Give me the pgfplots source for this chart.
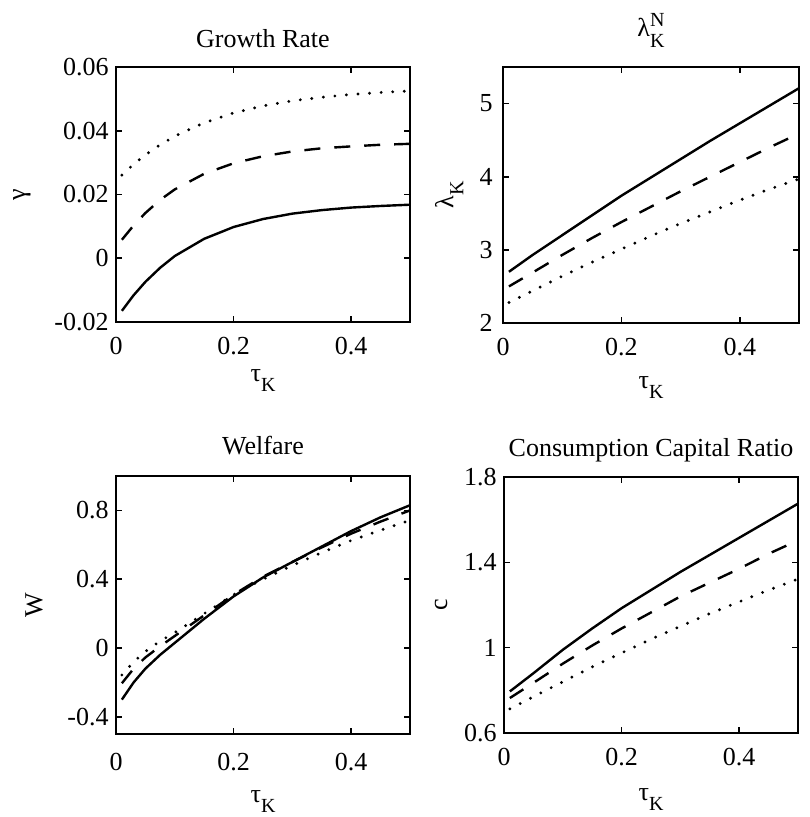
\documentclass[border=0pt]{standalone}
\usepackage{amsmath}
\usepackage{fontspec}
\setmainfont{Liberation Serif}
\usepackage{pgfplots}
\pgfplotsset{compat=1.18}

\newcommand{\sk}[1]{\raisebox{-5pt}{\fontsize{10}{10}\selectfont #1}}

\pgfplotsset{
  panel/.style={
    scale only axis, width=147pt, height=128pt,
    xmin=0, xmax=0.5, xtick={0,0.2,0.4}, xticklabels={0,0.2,0.4},
    scaled y ticks=false, scaled x ticks=false,
    tick align=inside, tick pos=both, major tick length=3pt,
    axis line style={line width=1.4pt},
    every tick/.style={black, line width=0.8pt},
    /pgf/number format/assume math mode=true,
    xticklabel style={inner sep=0pt, anchor=north, yshift=-7.5pt},
    yticklabel style={inner sep=0pt, anchor=east, xshift=-3.5pt},
    every axis title/.style={inner sep=0pt, anchor=base},
    xlabel style={inner sep=0pt, anchor=base},
    ylabel style={inner sep=0pt, anchor=center},
  },
  sol/.style={black, line width=1.2pt},
  dsh/.style={black, line width=1.2pt, dash pattern=on 8pt off 7pt},
  dot/.style={black, line width=1.6pt, line cap=round, dash pattern=on 0pt off 5.8pt},
}

\begin{document}
\fontsize{13}{15}\selectfont
\begin{tikzpicture}
\useasboundingbox (0,0) rectangle (404.5pt,408.5pt);

% growth rate
\begin{axis}[panel, at={(58pt,247.5pt)}, anchor=south west, height=127.5pt,
  ymin=-0.02, ymax=0.06, ytick={-0.02,0,0.02,0.04,0.06},
  yticklabels={-0.02,0,0.02,0.04,0.06},
  title={Growth Rate}, title style={at={(axis description cs:0.5,1)}, yshift=10pt},
  xlabel={τ\sk{K}}, xlabel style={at={(axis description cs:0.5,-0.235)}},
  ylabel={γ}, ylabel style={at={(axis description cs:-0.32,0.5)}}]
\addplot[sol] coordinates {(0.01,-0.0165) (0.03,-0.0116) (0.05,-0.0074) (0.075,-0.0030) (0.1,0.0007) (0.15,0.0061) (0.2,0.0098) (0.25,0.0123) (0.3,0.0140) (0.35,0.0151) (0.4,0.0159) (0.45,0.0164) (0.5,0.0168)};
\addplot[dsh] coordinates {(0.01,0.0058) (0.03,0.0103) (0.05,0.0142) (0.075,0.0183) (0.1,0.0216) (0.15,0.0265) (0.2,0.0298) (0.25,0.0320) (0.3,0.0335) (0.35,0.0345) (0.4,0.0351) (0.45,0.0356) (0.5,0.0359)};
\addplot[dot] coordinates {(0.01,0.0261) (0.03,0.0295) (0.05,0.0324) (0.075,0.0356) (0.1,0.0383) (0.15,0.0425) (0.2,0.0456) (0.25,0.0478) (0.3,0.0494) (0.35,0.0505) (0.4,0.0514) (0.45,0.0520) (0.5,0.0525)};
\end{axis}

% lambda_K
\begin{axis}[panel, at={(251.5pt,247pt)}, anchor=south west, width=148pt,
  ymin=2, ymax=5.5, ytick={2,3,4,5}, yticklabels={2,3,4,5},
  yticklabel style={xshift=-1.5pt},
  title={λ\rlap{\raisebox{5pt}{\fontsize{10}{10}\selectfont N}}\raisebox{-5.5pt}{\fontsize{10}{10}\selectfont K}},
  title style={at={(axis description cs:0.5,1)}, yshift=15pt},
  xlabel={τ\sk{K}}, xlabel style={at={(axis description cs:0.5,-0.254)}},
  ylabel={λ\sk{K}}, ylabel style={at={(axis description cs:-0.182,0.5)}}]
\addplot[sol] coordinates {(0.01,2.70) (0.05,2.93) (0.1,3.20) (0.15,3.47) (0.2,3.74) (0.25,3.99) (0.3,4.24) (0.35,4.49) (0.4,4.73) (0.45,4.97) (0.5,5.21)};
\addplot[dsh] coordinates {(0.01,2.50) (0.05,2.69) (0.1,2.93) (0.15,3.16) (0.2,3.38) (0.25,3.59) (0.3,3.80) (0.35,4.00) (0.4,4.20) (0.45,4.40) (0.5,4.59)};
\addplot[dot] coordinates {(0.01,2.28) (0.05,2.44) (0.1,2.64) (0.15,2.83) (0.2,3.01) (0.25,3.19) (0.3,3.36) (0.35,3.52) (0.4,3.68) (0.45,3.83) (0.5,3.97)};
\end{axis}

% welfare
\begin{axis}[panel, at={(58pt,41.5pt)}, anchor=south west, height=129pt,
  ymin=-0.5, ymax=1.0, ytick={-0.4,0,0.4,0.8}, yticklabels={-0.4,0,0.4,0.8},
  xticklabel style={yshift=-2pt},
  title={Welfare}, title style={at={(axis description cs:0.5,1)}, yshift=10.5pt},
  xlabel={τ\sk{K}}, xlabel style={at={(axis description cs:0.5,-0.264)}},
  ylabel={W}, ylabel style={at={(axis description cs:-0.279,0.5)}}]
\addplot[sol] coordinates {(0.01,-0.30) (0.03,-0.20) (0.05,-0.12) (0.075,-0.04) (0.1,0.03) (0.15,0.17) (0.2,0.30) (0.25,0.41) (0.3,0.50) (0.35,0.59) (0.4,0.68) (0.45,0.76) (0.5,0.83)};
\addplot[dsh] coordinates {(0.01,-0.205) (0.03,-0.12) (0.05,-0.055) (0.075,0.01) (0.1,0.07) (0.15,0.19) (0.2,0.31) (0.25,0.415) (0.3,0.50) (0.35,0.585) (0.4,0.665) (0.45,0.735) (0.5,0.80)};
\addplot[dot] coordinates {(0.01,-0.157) (0.03,-0.08) (0.05,-0.02) (0.075,0.04) (0.1,0.09) (0.15,0.20) (0.2,0.31) (0.25,0.40) (0.3,0.48) (0.35,0.555) (0.4,0.625) (0.45,0.685) (0.5,0.742)};
\end{axis}

% consumption capital ratio
\begin{axis}[panel, at={(252pt,42pt)}, anchor=south west,
  ymin=0.6, ymax=1.8, ytick={0.6,1,1.4,1.8}, yticklabels={0.6,1,1.4,1.8},
  title={Consumption Capital Ratio}, title style={at={(axis description cs:0.5,1)}, yshift=10pt},
  xlabel={τ\sk{K}}, xlabel style={at={(axis description cs:0.5,-0.262)}},
  ylabel={c}, ylabel style={at={(axis description cs:-0.214,0.5)}}]
\addplot[sol] coordinates {(0.01,0.795) (0.05,0.88) (0.1,0.99) (0.15,1.09) (0.2,1.185) (0.25,1.27) (0.3,1.355) (0.35,1.435) (0.4,1.515) (0.45,1.595) (0.5,1.675)};
\addplot[dsh] coordinates {(0.01,0.764) (0.05,0.835) (0.1,0.925) (0.15,1.01) (0.2,1.09) (0.25,1.165) (0.3,1.24) (0.35,1.305) (0.4,1.37) (0.45,1.44) (0.5,1.503)};
\addplot[dot] coordinates {(0.01,0.713) (0.05,0.77) (0.1,0.84) (0.15,0.91) (0.2,0.975) (0.25,1.04) (0.3,1.10) (0.35,1.16) (0.4,1.215) (0.45,1.27) (0.5,1.322)};
\end{axis}
\end{tikzpicture}
\end{document}
